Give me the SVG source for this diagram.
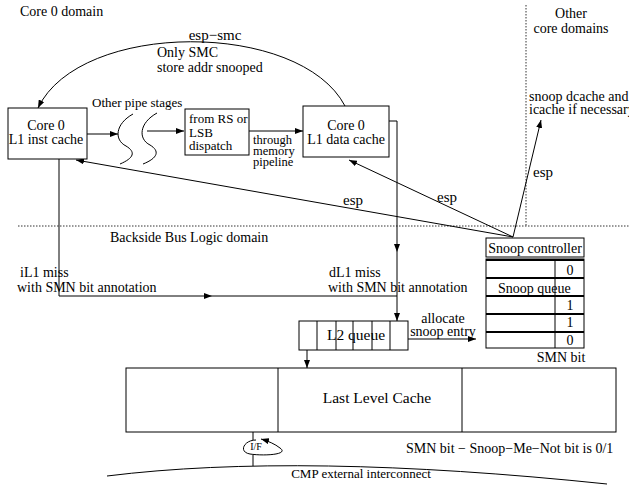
<svg xmlns="http://www.w3.org/2000/svg" width="629" height="485" viewBox="0 0 629 485">
<style>
  text { font-family: "Liberation Serif", "Times New Roman", serif; font-size: 14px; fill: #000; }
  .sm { font-size: 13px; }
  .xs { font-size: 12.5px; }
  .big { font-size: 15.5px; }
  .esp { font-size: 15px; }
  .tiny { font-size: 10px; }
  .mid { text-anchor: middle; }
  .box { fill: #fff; stroke: #000; stroke-width: 1; }
  .ln { fill: none; stroke: #000; stroke-width: 1; }
  .dot { fill: none; stroke: #333; stroke-width: 1; stroke-dasharray: 1.5 1.5; }
  .sep { stroke: #000; stroke-width: 1.8; }
</style>
<defs>
  <marker id="ah" viewBox="0 0 8 6" refX="8" refY="3" markerWidth="8" markerHeight="6" markerUnits="userSpaceOnUse" orient="auto">
    <path d="M0,0 L8,3 L0,6 z" fill="#000"/>
  </marker>
</defs>
<rect width="629" height="485" fill="#fff"/>

<g id="domains">
  <path class="dot" d="M18,226 H629"/>
  <path class="dot" d="M526,5 V226"/>
  <text x="20" y="16">Core 0 domain</text>
  <text x="571" y="18" class="mid">Other</text>
  <text x="571" y="33" class="mid">core domains</text>
  <text x="110" y="242">Backside Bus Logic domain</text>
</g>

<g id="connectors">
  <path class="ln" d="M345,106 C300,20 80,20 38,108" marker-end="url(#ah)"/>
  <path class="ln" d="M87,134 H118" marker-end="url(#ah)"/>
  <path class="ln" d="M147,131 H184" marker-end="url(#ah)"/>
  <path class="ln" d="M249,131 H303" marker-end="url(#ah)"/>
  <path class="ln" d="M389,121 H397 V252" marker-end="url(#ah)"/>
  <path class="ln" d="M397,252 V321" marker-end="url(#ah)"/>
  <path class="ln" d="M59,159 V296 H212" marker-end="url(#ah)"/>
  <path class="ln" d="M212,296 H397"/>
  <path class="ln" d="M408,339 H476" marker-end="url(#ah)"/>
  <path class="ln" d="M307,350 V368" marker-end="url(#ah)"/>
  <path class="ln" d="M513,237 L76,160" marker-end="url(#ah)"/>
  <path class="ln" d="M513,237 L349,160" marker-end="url(#ah)"/>
  <path class="ln" d="M513,237 L541,120" marker-end="url(#ah)"/>
  <path class="ln" d="M253,432 V440"/>
  <path class="ln" d="M253,455 V466"/>
  <text x="215" y="40" class="esp mid">esp−smc</text>
  <text x="157" y="57">Only SMC</text>
  <text x="157" y="72">store addr snooped</text>
  <text x="92" y="107" class="sm">Other pipe stages</text>
  <text x="253" y="144" class="xs">through</text>
  <text x="253" y="155" class="xs">memory</text>
  <text x="253" y="166" class="xs">pipeline</text>
  <text x="343" y="205" class="esp">esp</text>
  <text x="437" y="202" class="esp">esp</text>
  <text x="533" y="177" class="esp">esp</text>
  <text x="529" y="101">snoop dcache and</text>
  <text x="529" y="114">icache if necessary</text>
  <text x="20" y="277">iL1 miss</text>
  <text x="17" y="292">with SMN bit annotation</text>
  <text x="329" y="277">dL1 miss</text>
  <text x="328" y="292">with SMN bit annotation</text>
  <text x="443" y="323" class="mid">allocate</text>
  <text x="443" y="336" class="mid">snoop entry</text>
</g>

<g id="pipe-stages">
  <path class="ln" d="M133,114 C115,124 114,140 126,146 C136,152 134,158 120,164"/>
  <path class="ln" d="M157,113 C139,123 138,139 150,145 C160,151 158,158 143,164"/>
</g>

<g id="l1-inst-cache">
  <rect class="box" x="8" y="108" width="79" height="51"/>
  <text x="46" y="130" class="mid">Core 0</text>
  <text x="46" y="144" class="mid">L1 inst cache</text>
</g>

<g id="rs-lsb-dispatch">
  <rect class="box" x="185" y="109" width="64" height="46"/>
  <text x="189" y="123" class="sm">from RS or</text>
  <text x="189" y="137" class="sm">LSB</text>
  <text x="189" y="150" class="sm">dispatch</text>
</g>

<g id="l1-data-cache">
  <rect class="box" x="303" y="106" width="86" height="51"/>
  <text x="346" y="130" class="mid">Core 0</text>
  <text x="346" y="144" class="mid">L1 data cache</text>
</g>

<g id="snoop-controller">
  <rect class="box" x="486" y="238" width="98" height="19"/>
  <text x="535" y="253" class="mid">Snoop controller</text>
</g>

<g id="snoop-queue">
  <rect class="box" x="486" y="259" width="98" height="89"/>
  <line class="sep" x1="486" y1="260" x2="584" y2="260"/>
  <line class="sep" x1="486" y1="278" x2="584" y2="278"/>
  <line class="sep" x1="486" y1="296" x2="584" y2="296"/>
  <line class="sep" x1="486" y1="314" x2="584" y2="314"/>
  <line class="sep" x1="486" y1="332" x2="584" y2="332"/>
  <line class="ln" x1="555" y1="260" x2="555" y2="348"/>
  <text x="570" y="275" class="mid">0</text>
  <text x="498" y="293">Snoop queue</text>
  <text x="570" y="310" class="mid">1</text>
  <text x="570" y="327" class="mid">1</text>
  <text x="570" y="345" class="mid">0</text>
  <text x="561" y="362" class="mid">SMN bit</text>
</g>

<g id="l2-queue">
  <rect class="box" x="299" y="321" width="109" height="29"/>
  <path class="ln" d="M317,321 V350 M336,321 V350 M353,321 V350 M372,321 V350 M390,321 V350"/>
  <text x="356" y="340" class="big mid">L2 queue</text>
</g>

<g id="last-level-cache">
  <rect class="box" x="126" y="368" width="490" height="64"/>
  <path class="ln" d="M278,368 V432 M462,368 V432"/>
  <text x="377" y="403" class="big mid">Last Level Cache</text>
</g>

<g id="interface">
  <path class="ln" d="M256,440 C244,440 238,452 250,454 C262,456 290,455 280,448 C275,444 268,441 261,439" marker-end="url(#ah)"/>
  <text x="256" y="450" class="tiny mid">I/F</text>
</g>

<g id="interconnect">
  <path class="ln" d="M107,476 Q300,452 607,484"/>
  <text x="361" y="478" class="sm mid">CMP external interconnect</text>
</g>

<text x="406" y="453">SMN bit − Snoop−Me−Not bit is 0/1</text>
</svg>
